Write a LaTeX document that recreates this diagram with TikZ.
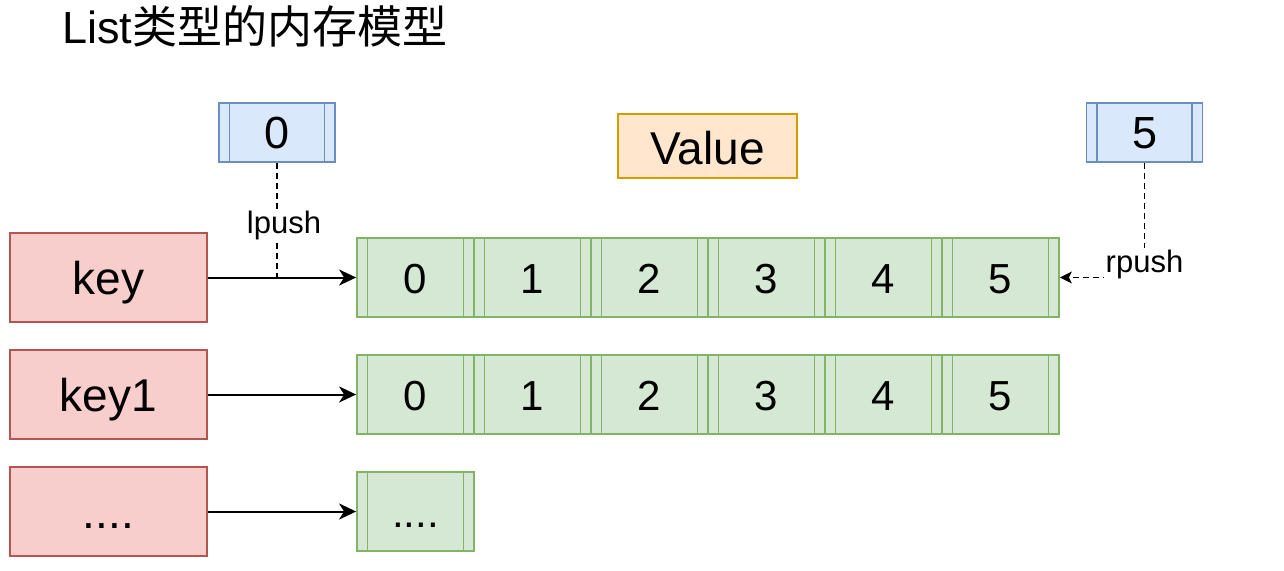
\documentclass[tikz,border=0pt]{standalone}
\usepackage{fontspec}
\setmainfont{Liberation Sans}
\newfontfamily\cjk{Noto Sans CJK SC}
\usetikzlibrary{positioning,arrows.meta}
\definecolor{keyfill}{HTML}{F8CECC}
\definecolor{keyline}{HTML}{B85450}
\definecolor{cellfill}{HTML}{D5E8D4}
\definecolor{cellline}{HTML}{82B366}
\definecolor{idxfill}{HTML}{DAE8FC}
\definecolor{idxline}{HTML}{6C8EBF}
\definecolor{valfill}{HTML}{FFE6CC}
\definecolor{valline}{HTML}{D79B00}
\tikzset{
  bars/.style={path picture={
    \draw[#1,line width=1.8pt]
      ([xshift=10.5pt]path picture bounding box.north west) -- ([xshift=10.5pt]path picture bounding box.south west)
      ([xshift=-10.5pt]path picture bounding box.north east) -- ([xshift=-10.5pt]path picture bounding box.south east);}},
}

\begin{document}
\begin{tikzpicture}[x=1pt,y=-1pt,node distance=117pt,on grid,
    every node/.style={inner sep=0pt},
    box/.style={draw,line width=1.8pt,text height=40pt,text depth=8pt,font=\fontsize{42}{50}\selectfont},
    keybox/.style={box,fill=keyfill,draw=keyline,minimum width=197pt,minimum height=89pt,text height=42pt,font=\fontsize{46}{54}\selectfont},
    cell/.style={box,fill=cellfill,draw=cellline,minimum width=117pt,minimum height=79pt,bars=cellline},
    idx/.style={box,fill=idxfill,draw=idxline,minimum width=116pt,minimum height=59pt,bars=idxline,font=\fontsize{45}{54}\selectfont},
    ptr/.style={-{Stealth[length=17pt,width=16pt,inset=5pt]},line width=2pt},
    push/.style={dash pattern=on 6pt off 4pt,line width=1.8pt},
    lbl/.style={fill=white,inner sep=2pt,font=\fontsize{31}{36}\selectfont}]
    \useasboundingbox (0,0) rectangle (1284,570);
    \node[anchor=base west] (title) at (62,43) {\fontsize{45}{54}\selectfont List{\cjk 类型的内存模型}};

    \node[cell] (a0) at (415.5,277.5) {0};
    \foreach \i [remember=\i as \j (initially 0)] in {1,...,5}
        \node[cell,right=of a\j] (a\i) {\i};
    \node[cell,below=of a0] (b0) {0};
    \foreach \i [remember=\i as \j (initially 0)] in {1,...,5}
        \node[cell,right=of b\j] (b\i) {\i};
    \node[cell,below=of b0] (c0) {....};

    \node[keybox,left=307pt of a0] (k0) {key};
    \node[keybox,left=307pt of b0] (k1) {key1};
    \node[keybox,left=307pt of c0] (k2) {....};

    \node[idx] (l) at (277,132.5) {0};
    \node[idx] (r) at (1144.5,132.5) {5};
    \node[box,fill=valfill,draw=valline,minimum width=179pt,minimum height=64pt,text height=45pt,font=\fontsize{46}{54}\selectfont] (val) at (707.5,146) {Value};

    \draw[ptr] (k0) -- (a0);
    \draw[ptr] (k1) -- (b0);
    \draw[ptr] (k2) -- (c0);
    \coordinate (lp) at (l |- k0.east);
    \draw[push] (l) -- (lp) node[lbl,midway,xshift=7pt,yshift=-5pt] {lpush};
    \draw[push,-{Stealth[length=12pt,width=12pt,inset=3pt]}] (r) |- (a5) node[lbl,pos=0.5,yshift=13pt] {rpush};
\end{tikzpicture}
\end{document}
